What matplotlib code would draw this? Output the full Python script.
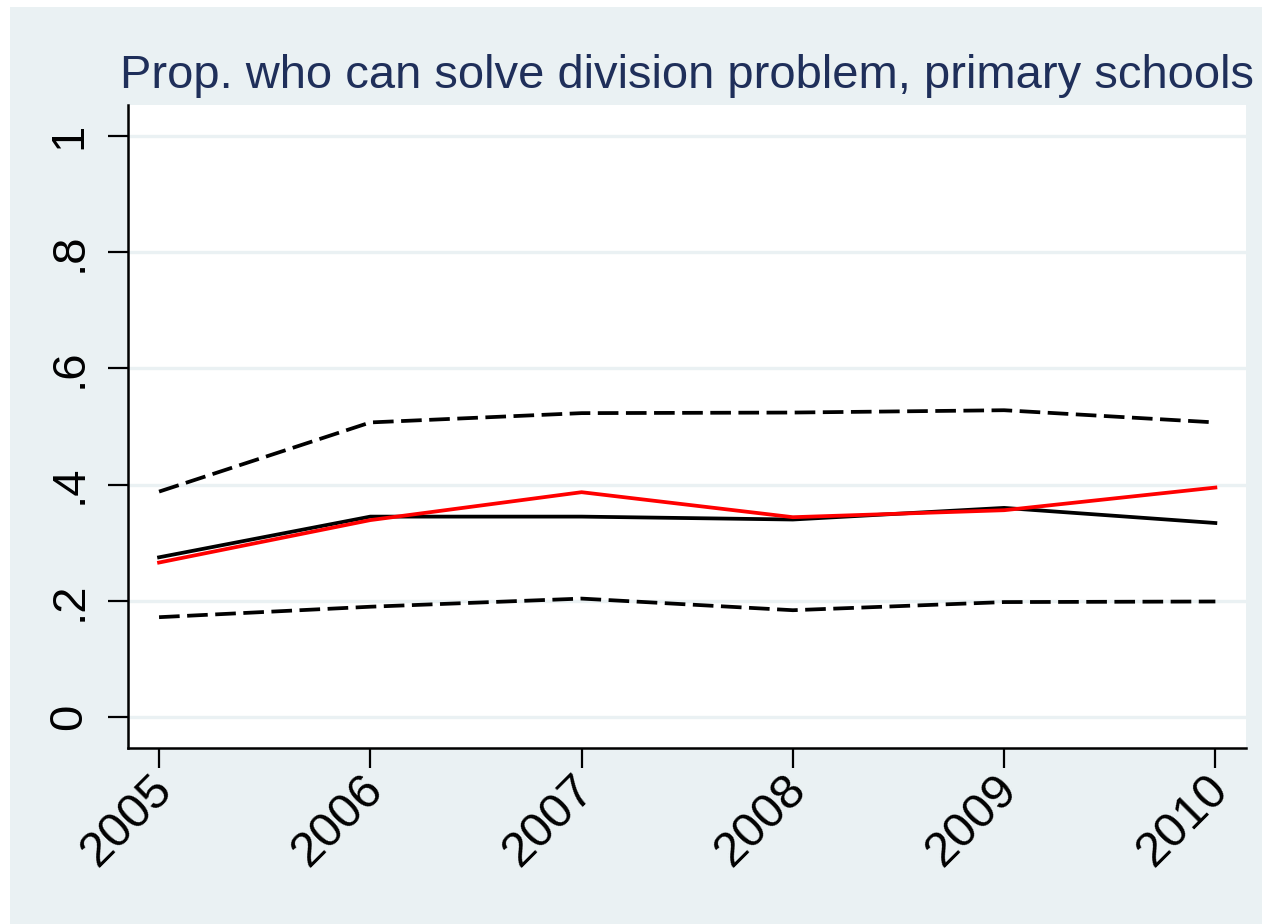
import matplotlib
matplotlib.use("Agg")
import matplotlib.pyplot as plt
from matplotlib.patches import Rectangle
from matplotlib.transforms import ScaledTranslation

years = [2005, 2006, 2007, 2008, 2009, 2010]
upper_ci = [0.388, 0.507, 0.523, 0.524, 0.528, 0.507]
red_series = [0.266, 0.339, 0.387, 0.344, 0.356, 0.395]
black_series = [0.275, 0.345, 0.345, 0.340, 0.360, 0.334]
lower_ci = [0.172, 0.190, 0.204, 0.184, 0.198, 0.199]
yticks = [0, 0.2, 0.4, 0.6, 0.8, 1.0]
ytick_labels = ["0", ".2", ".4", ".6", ".8", "1"]
title = "Prop. who can solve division problem, primary schools"

BG = "#EAF1F3"
plt.rcParams['font.family'] = ['Liberation Sans', 'DejaVu Sans']

W, H = 1262, 924
fig = plt.figure(figsize=(W / 100, H / 100), dpi=100, facecolor="white")
fig.patches.append(Rectangle((10 / W, 0), 1 - 10 / W, 1 - 7 / H,
                             transform=fig.transFigure, facecolor=BG,
                             edgecolor="none", zorder=-10))

ax = fig.add_axes([128 / W, 1 - 748 / H, (1246 - 128) / W, (748 - 105) / H])
ax.set_facecolor("white")

lw = 2.7
dash = (5.5, 2.0)
ax.plot(years, upper_ci, color="black", lw=lw, dashes=dash, zorder=3)
ax.plot(years, lower_ci, color="black", lw=lw, dashes=dash, zorder=3)
ax.plot(years, black_series, color="black", lw=lw, zorder=4)
ax.plot(years, red_series, color="#FF0000", lw=lw, zorder=5)

ax.set_xlim(2004.853, 2010.145)
ax.set_ylim(-0.053, 1.053)

for yv in yticks:
    ax.axhline(yv, color=BG, lw=2.4, zorder=1)

ax.set_yticks(yticks)
ax.set_yticklabels(ytick_labels, rotation=90, va="center", fontsize=34)
ax.set_xticks(years)
ax.set_xticklabels([str(y) for y in years], rotation=45, ha="right",
                   rotation_mode="anchor", fontsize=35)

ax.tick_params(axis="both", length=14.5, width=1.6, color="black", direction="out")
ax.tick_params(axis="y", pad=12)
ax.tick_params(axis="x", pad=2)

offset = ScaledTranslation(-10 / 100, 4 / 100, fig.dpi_scale_trans)
for lab in ax.get_xticklabels():
    lab.set_transform(lab.get_transform() + offset)

for side in ["top", "right"]:
    ax.spines[side].set_visible(False)
for side in ["left", "bottom"]:
    ax.spines[side].set_linewidth(1.8)
    ax.spines[side].set_color("black")

ax.set_title(title, fontsize=33.9, color="#1F2F5A", pad=12)

fig.savefig("out.png", dpi=100, facecolor="white")
